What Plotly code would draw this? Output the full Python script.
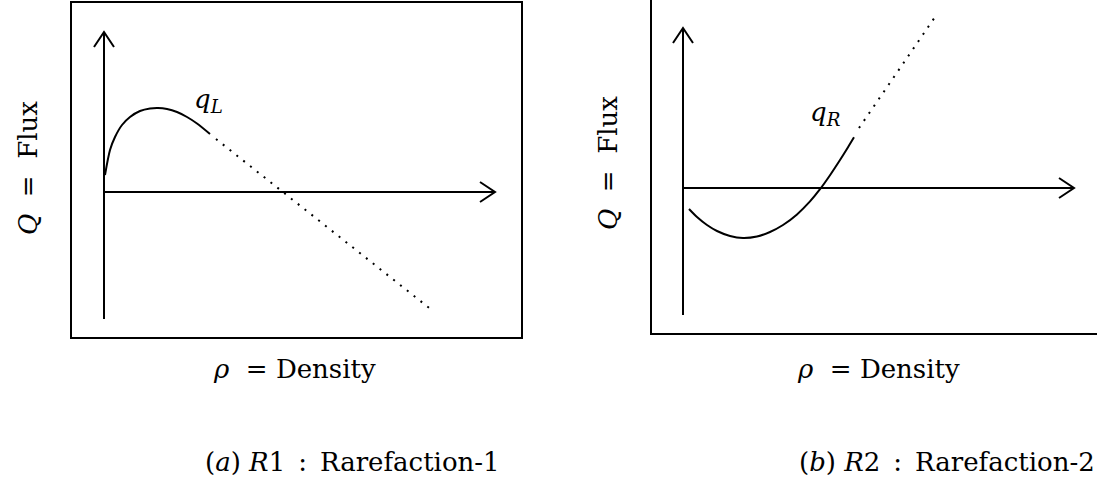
import plotly.graph_objects as go

# ---- curve samples (rho, Q) -------------------------------------------
# Panel (a): flux curve up to q_L, then the dotted continuation
rho_a = [0.01, 0.06, 0.11, 0.18, 0.26, 0.36, 0.46, 0.54, 0.63, 0.73, 0.83, 0.93, 1.06]
q_a = [0.17, 0.42, 0.55, 0.67, 0.75, 0.81, 0.835, 0.84, 0.83, 0.80, 0.75, 0.685, 0.58]
rho_a_dot = [1.12, 3.29]
q_a_dot = [0.53, -1.19]

# Panel (b): flux curve up to q_R, then the dotted continuation
rho_b = [0.06, 0.14, 0.24, 0.34, 0.47, 0.60, 0.74, 0.87, 1.00, 1.14, 1.27, 1.37, 1.47, 1.57, 1.65, 1.71]
q_b = [-0.21, -0.29, -0.37, -0.43, -0.48, -0.50, -0.485, -0.44, -0.37, -0.264, -0.134, -0.012, 0.128, 0.28, 0.408, 0.507]
rho_b_dot = [1.76, 2.52]
q_b_dot = [0.60, 1.71]

# ---- drawn coordinate axes (in data units) ----------------------------
rho_axis_end = 3.91
q_axis_top = 1.60
q_axis_bottom = -1.27
head_len = 0.15
head_half = 0.10

# ---- text -------------------------------------------------------------
x_title = "<i>ρ</i>\u00a0\u00a0= Density"
y_title = "<i>Q</i>\u00a0\u00a0=\u00a0\u00a0Flux"
captions = ["(<i>a</i>) <i>R</i>1\u2002:\u2002Rarefaction-1",
            "(<i>b</i>) <i>R</i>2\u2002:\u2002Rarefaction-2"]
point_labels = ["<i>q</i><sub><i>L</i></sub>", "<i>q</i><sub><i>R</i></sub>"]
label_pos = [(1.04, 0.92), (1.42, 0.75)]

FONT = "DejaVu Serif"
W, H = 1097, 483


def arrow_axes():
    """Stem + open chevron for both coordinate axes."""
    xs = [0, 0, None,
          -head_half, 0, head_half, None,
          0, rho_axis_end, None,
          rho_axis_end - head_len, rho_axis_end, rho_axis_end - head_len]
    ys = [q_axis_bottom, q_axis_top, None,
          q_axis_top - head_len, q_axis_top, q_axis_top - head_len, None,
          0, 0, None,
          head_half, 0, -head_half]
    return xs, ys


fig = go.Figure()

panels = [
    ("x", "y", rho_a, q_a, rho_a_dot, q_a_dot),
    ("x2", "y2", rho_b, q_b, rho_b_dot, q_b_dot),
]
for xa, ya, rx, qy, rdx, qdy in panels:
    ax_x, ax_y = arrow_axes()
    fig.add_trace(go.Scatter(x=ax_x, y=ax_y, mode="lines", xaxis=xa, yaxis=ya,
                             line=dict(color="black", width=2),
                             hoverinfo="skip", showlegend=False))
    fig.add_trace(go.Scatter(x=rx, y=qy, mode="lines", xaxis=xa, yaxis=ya,
                             line=dict(color="black", width=2, shape="spline", smoothing=0.8),
                             hoverinfo="skip", showlegend=False))
    fig.add_trace(go.Scatter(x=rdx, y=qdy, mode="lines", xaxis=xa, yaxis=ya,
                             line=dict(color="black", width=2, dash="2px,6.7px"),
                             hoverinfo="skip", showlegend=False))

axis_common = dict(showgrid=False, zeroline=False, showticklabels=False, ticks="",
                   linecolor="black", linewidth=2, fixedrange=True)

fig.update_layout(
    width=W, height=H,
    margin=dict(l=0, r=0, t=0, b=0),
    paper_bgcolor="white", plot_bgcolor="white",
    xaxis=dict(domain=[72 / W, 521 / W], range=[-0.32, 4.17], showline=True, mirror=True,
               anchor="y", **axis_common),
    yaxis=dict(domain=[146 / H, 480 / H], range=[-1.45, 1.89], showline=True, mirror=True,
               anchor="x", **axis_common),
    xaxis2=dict(domain=[652 / W, 1.0], range=[-0.31, 4.14], showline=True, mirror=False,
                anchor="y2", **axis_common),
    yaxis2=dict(domain=[150 / H, 1.0], range=[-1.45, 1.88], showline=True, mirror=False,
                anchor="x2", **axis_common),
)

annotations = []
font = dict(family=FONT, size=26, color="black")
# point labels
for (lx, ly), txt, xr, yr in zip(label_pos, point_labels, ["x", "x2"], ["y", "y2"]):
    annotations.append(dict(x=lx, y=ly, xref=xr, yref=yr, text=txt, showarrow=False,
                            xanchor="center", yanchor="middle", font=font))
# axis titles
for cx in (294, 878):
    annotations.append(dict(x=cx / W, y=1 - 369 / H, xref="paper", yref="paper",
                            xanchor="center", yanchor="middle",
                            text=x_title, showarrow=False, font=font))
for cx, cy in ((28, 168), (608, 163)):
    annotations.append(dict(x=cx / W, y=1 - cy / H, xref="paper", yref="paper",
                            xanchor="center", yanchor="middle",
                            text=y_title, textangle=-90, showarrow=False, font=font))
# captions
for lx, txt in zip((203, 797), captions):
    annotations.append(dict(x=lx / W, y=1 - 462 / H, xref="paper", yref="paper",
                            xanchor="left", yanchor="middle",
                            text=txt, showarrow=False, font=font))
fig.update_layout(annotations=annotations)

fig.write_html("out.html")
